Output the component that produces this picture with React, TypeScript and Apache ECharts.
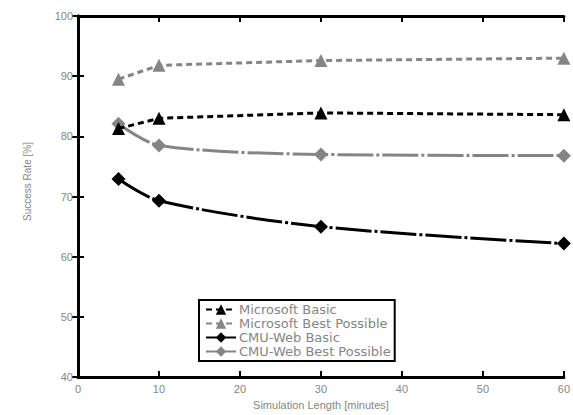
import React, { useEffect, useRef } from "react";
import * as echarts from "echarts";

const xValues = [5, 10, 30, 60];
const msBasic = [81.3, 83.0, 83.9, 83.6];
const msBest = [89.5, 91.8, 92.6, 93.0];
const cmuBasic = [72.9, 69.3, 65.0, 62.2];
const cmuBest = [82.1, 78.5, 77.0, 76.8];
const seriesNames = ["Microsoft Basic", "Microsoft Best Possible", "CMU-Web Basic", "CMU-Web Best Possible"];

const pairs = (ys: number[]) => xValues.map((x, i) => [x, ys[i]]);

export default function App() {
  const ref = useRef<HTMLDivElement>(null);
  useEffect(() => {
    const chart = echarts.init(ref.current!, null, { renderer: "svg" });
    const font = "Liberation Sans, Arial, sans-serif";
    const legendFont = "DejaVu Sans, sans-serif";
    const grey = "#858585";
    const black = "#000";
    const axisCommon = {
      axisLine: { show: true, lineStyle: { color: black, width: 3 } },
      axisTick: { show: true, inside: true, length: 6, lineStyle: { color: black, width: 2 } },
      splitLine: { show: false },
    };
    chart.setOption({
      animation: false,
      backgroundColor: "#fff",
      grid: { left: 78, right: 7, top: 16, bottom: 34, containLabel: false },
      xAxis: [
        {
          type: "value", min: 0, max: 60, interval: 10, position: "bottom",
          ...axisCommon,
          axisLabel: { color: grey, fontSize: 11, fontFamily: font, margin: 6 },
          name: "Simulation Length [minutes]", nameLocation: "middle", nameGap: 21,
          nameTextStyle: { color: grey, fontSize: 11, fontFamily: font },
        },
        {
          type: "value", min: 0, max: 60, interval: 10, position: "top",
          ...axisCommon, axisLabel: { show: false },
        },
      ],
      yAxis: [
        {
          type: "value", min: 40, max: 100, interval: 10, position: "left",
          ...axisCommon,
          axisLabel: { color: grey, fontSize: 11, fontFamily: font, margin: 5 },
          name: "Success Rate [%]", nameLocation: "middle", nameGap: 46,
          nameTextStyle: { color: grey, fontSize: 10, fontFamily: font, padding: [0, 0, 0, 30] },
        },
        {
          type: "value", min: 40, max: 100, interval: 10, position: "right",
          ...axisCommon, axisLabel: { show: false },
        },
      ],
      legend: {
        orient: "vertical", left: 199, top: 300,
        data: seriesNames,
        backgroundColor: "#fff", borderColor: black, borderWidth: 2,
        padding: [3, 4, 3, 6], itemGap: 1, itemWidth: 30, itemHeight: 13,
        textStyle: { color: grey, fontSize: 13, fontFamily: legendFont, padding: [0, 0, 0, -2] },
      },
      series: [
        {
          name: seriesNames[0], type: "line", data: pairs(msBasic),
          symbol: "triangle", symbolSize: 13,
          lineStyle: { color: black, width: 3, type: [6, 4] },
          itemStyle: { color: black }, z: 4,
        },
        {
          name: seriesNames[1], type: "line", data: pairs(msBest),
          symbol: "triangle", symbolSize: 13,
          lineStyle: { color: grey, width: 3, type: [6, 4] },
          itemStyle: { color: grey }, z: 3,
        },
        {
          name: seriesNames[2], type: "line", data: pairs(cmuBasic), smooth: 0.3,
          symbol: "diamond", symbolSize: 14,
          lineStyle: { color: black, width: 3, type: [36, 3, 3, 3] },
          itemStyle: { color: black }, z: 4,
        },
        {
          name: seriesNames[3], type: "line", data: pairs(cmuBest), smooth: 0.3,
          symbol: "diamond", symbolSize: 14,
          lineStyle: { color: grey, width: 3, type: [36, 3, 3, 3] },
          itemStyle: { color: grey }, z: 3,
        },
      ],
    });
    return () => chart.dispose();
  }, []);
  return <div ref={ref} style={{ width: 573, height: 415, position: "absolute", left: 0, top: 0 }} />;
}
